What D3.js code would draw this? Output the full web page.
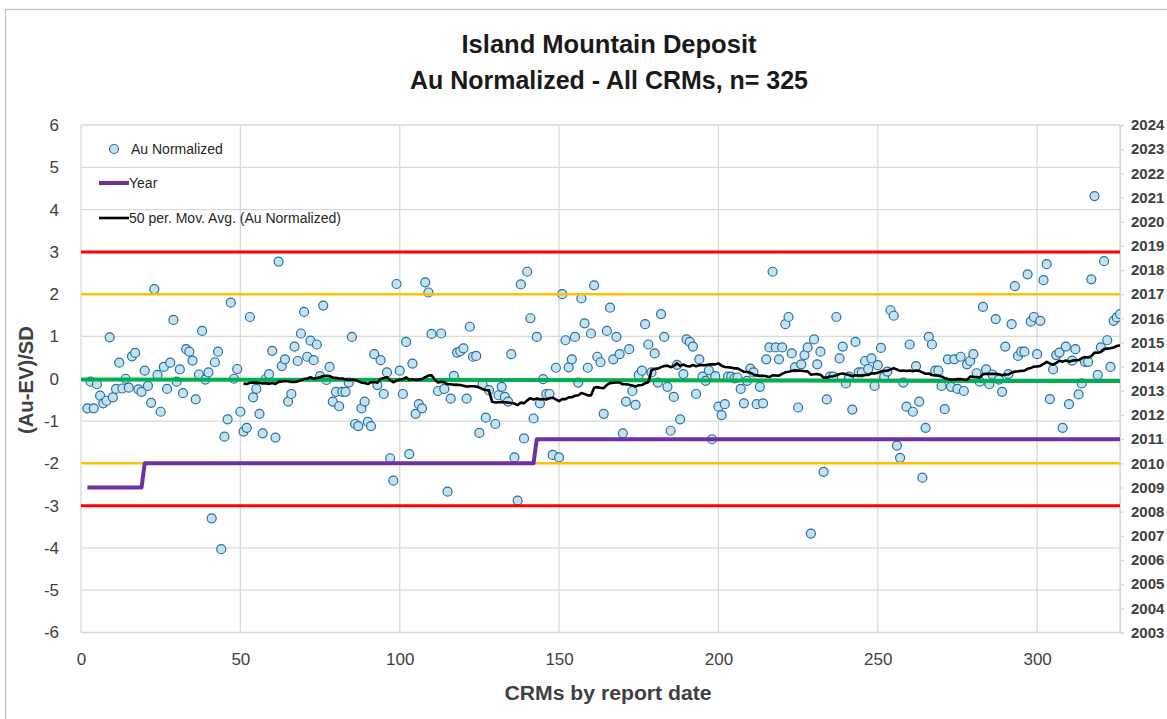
<!DOCTYPE html>
<html>
<head>
<meta charset="utf-8">
<script src="https://cdn.jsdelivr.net/npm/d3@7"></script>
<style>
  html, body { margin: 0; padding: 0; background: #ffffff; }
  svg { display: block; }
</style>
</head>
<body>
<svg id="chart" width="1167" height="719"></svg>
<script>
// ---- data -------------------------------------------------------------
// Normalized Au results ((Au - EV) / SD) in report-date order.
// Two results fall outside the ±6 axis range and are clipped from view,
// but they still count towards the moving average.
const auNormalized = [
  -0.70,-0.07,-0.70,-0.13,-0.40,-0.58,-0.52, 0.98,-0.44,-0.24,
   0.38,-0.23, 0.00,-0.21, 0.53, 0.61,-0.25,-0.31, 0.19,-0.17,
  -0.57, 2.12, 0.09,-0.78, 0.28,-0.24, 0.38, 1.39,-0.07, 0.22,
  -0.34, 0.70, 0.64, 0.43,-0.49, 0.10, 1.13,-0.02, 0.15,-3.30,
   0.39, 0.64,-4.03,-1.37,-0.96, 1.80, 0.00, 0.23,-0.78,-1.25,
  -1.16, 1.46,-0.44,-0.24,-0.83,-1.29, 0.00, 0.11, 0.66,-1.39,
   2.77, 0.30, 0.46,-0.54,-0.36, 0.76, 0.42, 1.07, 1.58, 0.52,
   0.90, 0.44, 0.81, 0.06, 1.73,-0.03, 0.28,-0.54,-0.31,-0.65,
  -0.31,-0.31,-0.09, 0.99,-1.07,-1.12,-0.70,-0.54,-1.02,-1.12,
   0.58,-0.15, 0.44,-0.36, 0.15,-1.88,-2.41, 2.24, 0.19,-0.36,
   0.87,-1.78, 0.36,-0.83,-0.60,-0.70, 2.28, 2.04, 1.06,-6.80,
  -0.29, 1.07,-0.24,-2.67,-0.47, 0.07, 0.62, 0.65, 0.72,-0.47,
   1.23, 0.52, 0.54,-1.28,-0.13,-0.92,-0.27,-14.0,-1.07,-0.39,
  -0.19,-0.43,-0.54, 0.58,-1.86,-2.88, 2.23,-1.41, 2.53, 1.43,
  -0.94, 0.99,-0.58,-0.01,-0.36,-0.36,-1.80, 0.26,-1.86, 2.00,
   0.91, 0.27, 0.46, 0.99,-0.09, 1.90, 1.31, 0.26, 1.07, 2.21,
   0.52, 0.39,-0.83, 1.13, 1.68, 0.46, 0.99, 0.58,-1.29,-0.54,
   0.70,-0.29,-0.62, 0.09, 0.19, 1.29, 0.81, 0.15, 0.60,-0.09,
   1.53, 0.99,-0.19,-1.23,-0.43, 0.33,-0.96, 0.11, 0.93, 0.87,
   0.76,-0.36, 0.46, 0.05,-0.05, 0.20,-1.43, 0.06,-0.66,-0.86,
  -0.60, 0.05, 0.05, 0.01, 0.03,-0.24,-0.58,-0.05, 0.24, 0.15,
  -0.60,-0.19,-0.58, 0.46, 0.74, 2.53, 0.74, 0.46, 0.74, 1.29,
   1.46, 0.60, 0.27,-0.68, 0.34, 0.56, 0.74,-3.66, 0.93, 0.34,
   0.64,-2.20,-0.49, 0.05, 0.05, 1.46, 0.48, 0.76,-0.11, 0.05,
  -0.73, 0.87, 0.15, 0.15, 0.42, 0.23, 0.48,-0.17, 0.32, 0.73,
   0.05, 0.17, 1.62, 1.49,-1.58,-1.87,-0.09,-0.66, 0.81,-0.78,
   0.30,-0.54,-2.34,-1.16, 0.99, 0.81, 0.19, 0.19,-0.17,-0.72,
   0.46,-0.19, 0.46,-0.24, 0.52,-0.29, 0.34, 0.42, 0.58, 0.13,
  -0.07, 1.70, 0.22,-0.13, 0.10, 1.41,-0.02,-0.31, 0.76, 0.11,
   1.29, 2.19, 0.54, 0.64, 0.64, 2.47, 1.35, 1.46, 0.58, 1.37,
   2.33, 2.71,-0.48, 0.22, 0.56, 0.62,-1.16, 0.76,-0.60, 0.43,
   0.70,-0.37,-0.11, 0.40, 0.40, 2.35, 4.32, 0.09, 0.74, 2.78,
   0.91, 0.28, 1.37, 1.45, 1.53
];
// x position of the first CRM (sequence numbers run on from here)
const firstCrmX = 2;

// Report year (secondary axis): level and the x where it begins
const yearLevels = [2009, 2010, 2011];
const yearStartX = [2, 20, 143];

// Reference lines in SD units
const controlLimits = [3, -3];
const warningLimits = [2, -2];
const meanLineEnds = [-0.015, -0.055];

const movingAvgPeriod = 50;

// Axis ticks
const xTicks = [0, 50, 100, 150, 200, 250, 300];
const yTicks = [-6, -5, -4, -3, -2, -1, 0, 1, 2, 3, 4, 5, 6];
const yearTicks = [2003, 2004, 2005, 2006, 2007, 2008, 2009, 2010, 2011, 2012, 2013,
                   2014, 2015, 2016, 2017, 2018, 2019, 2020, 2021, 2022, 2023, 2024];

const titleLines = ["Island Mountain Deposit", "Au Normalized - All CRMs, n= 325"];
const xTitle = "CRMs by report date";
const yTitle = "(Au-EV)/SD";
const legendLabels = ["Au Normalized", "Year", "50 per. Mov. Avg. (Au Normalized)"];

// ---- layout -----------------------------------------------------------
const plot = { left: 81, right: 1120, top: 125, bottom: 632.5 };
const colors = {
  grid: "#d9d9d9", axisText: "#404040", title: "#1a1a1a",
  pointFill: "#bfe2f4", pointStroke: "#2f6f95",
  red: "#ff0000", amber: "#ffc000", green: "#00b050",
  purple: "#7030a0", avg: "#000000", frame: "#bfbfbf"
};
const fontMain = "'Liberation Sans', Arial, sans-serif";
const fontNarrow = "'Liberation Sans Narrow', 'Arial Narrow', 'Liberation Sans', Arial, sans-serif";

const svg = d3.select("#chart");

const x = d3.scaleLinear().domain([0, 326]).range([plot.left, plot.right]);
const y = d3.scaleLinear().domain([-6, 6]).range([plot.bottom, plot.top]);
const yYear = d3.scaleLinear().domain([2003, 2024]).range([plot.bottom, plot.top]);

const pts = auNormalized.map((v, i) => ({ x: firstCrmX + i, v }));

// chart frame
svg.append("rect")
  .attr("x", 5.5).attr("y", 9.5).attr("width", 1300).attr("height", 900)
  .attr("fill", "#fff").attr("stroke", colors.frame).attr("stroke-width", 1.2);

svg.append("defs").append("clipPath").attr("id", "plotClip")
  .append("rect")
  .attr("x", plot.left).attr("y", plot.top)
  .attr("width", plot.right - plot.left).attr("height", plot.bottom - plot.top);

// gridlines
const grid = svg.append("g");
grid.selectAll("line.h").data(yTicks).join("line")
  .attr("x1", plot.left).attr("x2", plot.right)
  .attr("y1", d => y(d)).attr("y2", d => y(d))
  .attr("stroke", colors.grid).attr("stroke-width", 1.3);
grid.selectAll("line.v").data(xTicks).join("line")
  .attr("x1", d => x(d)).attr("x2", d => x(d))
  .attr("y1", plot.top).attr("y2", plot.bottom)
  .attr("stroke", colors.grid).attr("stroke-width", 1.3);
grid.append("line")
  .attr("x1", plot.right).attr("x2", plot.right)
  .attr("y1", plot.top).attr("y2", plot.bottom)
  .attr("stroke", colors.grid).attr("stroke-width", 1.3);

// left axis labels
const yAxis = d3.axisLeft(y).tickValues(yTicks).tickSize(0).tickPadding(22)
  .tickFormat(d => d3.format("d")(d).replace("\u2212", "-"));
const gy = svg.append("g").attr("transform", `translate(${plot.left},0)`).call(yAxis);
gy.select(".domain").remove();
gy.selectAll("text").attr("font-family", fontMain).attr("font-size", 17)
  .attr("fill", colors.axisText);

// bottom axis labels
const xAxis = d3.axisBottom(x).tickValues(xTicks).tickSize(0).tickPadding(20);
const gx = svg.append("g").attr("transform", `translate(0,${plot.bottom})`).call(xAxis);
gx.select(".domain").remove();
gx.selectAll("text").attr("font-family", fontMain).attr("font-size", 17)
  .attr("fill", colors.axisText);

// right (year) axis
const yearAxis = d3.axisRight(yYear).tickValues(yearTicks).tickSize(4).tickPadding(7)
  .tickFormat(d3.format("d"));
const gr = svg.append("g").attr("transform", `translate(${plot.right},0)`).call(yearAxis);
gr.select(".domain").attr("stroke", colors.grid).attr("stroke-width", 1.3);
gr.selectAll(".tick line").attr("stroke", colors.grid).attr("stroke-width", 1.3);
gr.selectAll("text").attr("font-family", fontMain).attr("font-size", 15)
  .attr("font-weight", "bold").attr("fill", "#404040");

// data points
const marks = svg.append("g").attr("clip-path", "url(#plotClip)");
marks.selectAll("circle").data(pts).join("circle")
  .attr("cx", d => x(d.x)).attr("cy", d => y(d.v)).attr("r", 4.5)
  .attr("fill", colors.pointFill).attr("stroke", colors.pointStroke)
  .attr("stroke-width", 1.2);

// control and warning limits
const lines = svg.append("g");
lines.selectAll("line.ctl").data(controlLimits).join("line")
  .attr("x1", plot.left).attr("x2", plot.right)
  .attr("y1", d => y(d)).attr("y2", d => y(d))
  .attr("stroke", colors.red).attr("stroke-width", 3);
lines.selectAll("line.warn").data(warningLimits).join("line")
  .attr("x1", plot.left).attr("x2", plot.right)
  .attr("y1", d => y(d)).attr("y2", d => y(d))
  .attr("stroke", colors.amber).attr("stroke-width", 2.5);
lines.append("line")
  .attr("x1", plot.left).attr("x2", plot.right)
  .attr("y1", y(meanLineEnds[0])).attr("y2", y(meanLineEnds[1]))
  .attr("stroke", colors.green).attr("stroke-width", 4);

// report year step line
const yearOf = xv => {
  let lvl = yearLevels[0];
  yearStartX.forEach((s, k) => { if (xv >= s) lvl = yearLevels[k]; });
  return lvl;
};
const yearPts = pts.map(d => ({ x: d.x, yr: yearOf(d.x) }));
lines.append("path").datum(yearPts)
  .attr("fill", "none").attr("stroke", colors.purple).attr("stroke-width", 4)
  .attr("stroke-linejoin", "round")
  .attr("d", d3.line().x(d => x(d.x)).y(d => yYear(d.yr)));

// 50-period trailing moving average
const avgPts = [];
for (let i = movingAvgPeriod - 1; i < pts.length; i++) {
  const win = auNormalized.slice(i - movingAvgPeriod + 1, i + 1);
  avgPts.push({ x: pts[i].x, v: d3.mean(win) });
}
lines.append("path").datum(avgPts)
  .attr("fill", "none").attr("stroke", colors.avg).attr("stroke-width", 2.6)
  .attr("stroke-linejoin", "round")
  .attr("d", d3.line().x(d => x(d.x)).y(d => y(d.v)));

// titles
const titles = svg.append("g").attr("font-family", fontNarrow).attr("font-weight", "bold")
  .attr("fill", colors.title).attr("text-anchor", "middle");
titles.append("text").attr("x", 609).attr("y", 53).attr("font-size", 25)
  .attr("textLength", 295).attr("lengthAdjust", "spacingAndGlyphs").text(titleLines[0]);
titles.append("text").attr("x", 609).attr("y", 89).attr("font-size", 25)
  .attr("textLength", 398).attr("lengthAdjust", "spacingAndGlyphs").text(titleLines[1]);
titles.append("text").attr("x", 608).attr("y", 700).attr("font-size", 20)
  .attr("fill", "#404040")
  .attr("textLength", 207).attr("lengthAdjust", "spacingAndGlyphs").text(xTitle);
titles.append("text").attr("transform", "translate(33,380) rotate(-90)")
  .attr("font-size", 20).attr("fill", "#404040")
  .attr("textLength", 108).attr("lengthAdjust", "spacingAndGlyphs").text(yTitle);

// legend (no background: gridlines show through)
const legend = svg.append("g").attr("font-family", fontMain).attr("font-size", 14)
  .attr("fill", "#262626");
legend.append("circle").attr("cx", 114).attr("cy", 149).attr("r", 4.5)
  .attr("fill", colors.pointFill).attr("stroke", colors.pointStroke).attr("stroke-width", 1.2);
legend.append("text").attr("x", 131).attr("y", 154).text(legendLabels[0]);
legend.append("line").attr("x1", 99).attr("x2", 129).attr("y1", 183).attr("y2", 183)
  .attr("stroke", colors.purple).attr("stroke-width", 4);
legend.append("text").attr("x", 129).attr("y", 188).text(legendLabels[1]);
legend.append("line").attr("x1", 99).attr("x2", 129).attr("y1", 218).attr("y2", 218)
  .attr("stroke", colors.avg).attr("stroke-width", 2.6);
legend.append("text").attr("x", 129).attr("y", 223).text(legendLabels[2]);
</script>
</body>
</html>
